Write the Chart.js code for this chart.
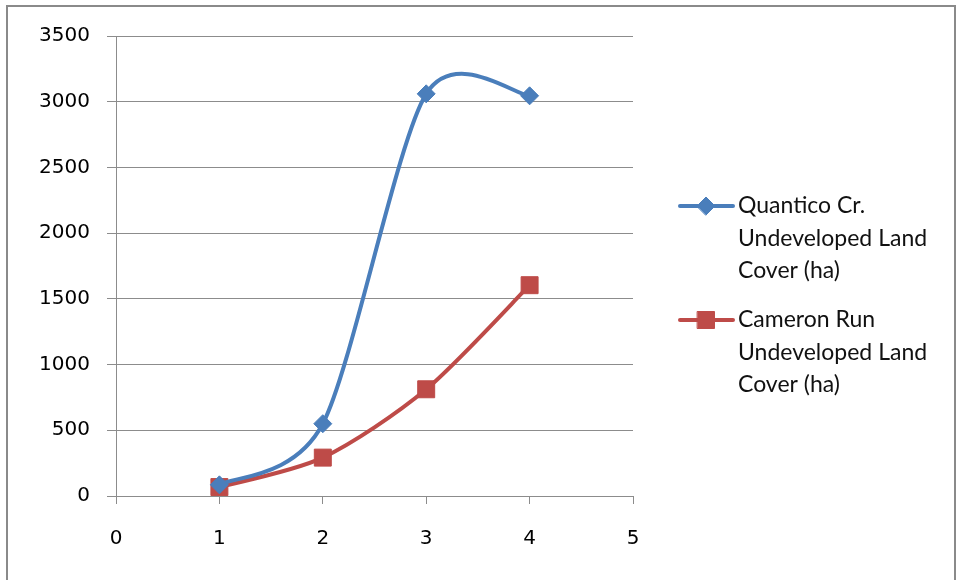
<!DOCTYPE html>
<html>
<head>
<meta charset="utf-8">
<script src="https://cdn.jsdelivr.net/npm/chart.js@4/dist/chart.umd.min.js"></script>
<style>
  html, body { margin: 0; padding: 0; background: #fff; }
  #wrap { position: relative; width: 960px; height: 580px; overflow: hidden; }
  #c { position: absolute; left: 0; top: 0; }
  #frame { position: absolute; left: 6px; top: 5px; width: 946px; height: 600px;
           border: 2px solid #8a8a8a; pointer-events: none; }
</style>
</head>
<body>
<div id="wrap">
  <canvas id="c" width="960" height="580"></canvas>
  <div id="frame"></div>
</div>
<script>
// Time step (x) and undeveloped land cover in hectares (y)
const steps = [1, 2, 3, 4];
const quanticoCr = [85, 550, 3060, 3045];
const cameronRun = [68, 292, 812, 1604];
const quanticoLabel = ['Quantico Cr.', 'Undeveloped Land', 'Cover (ha)'];
const cameronLabel = ['Cameron Run', 'Undeveloped Land', 'Cover (ha)'];

const BLUE = '#4a7ebb';
const RED = '#be4b48';
const GRID = '#8c8c8c';
const TICK_FONT = { family: "'DejaVu Sans', sans-serif", size: 20 };

const toPoints = (ys) => steps.map((x, i) => ({ x: x, y: ys[i] }));

// Uniform Catmull-Rom smoothing: control arms are a fixed fraction of the
// chord between each point's neighbours (the point itself at the ends).
const SMOOTH = 0.14;
const uniformSpline = {
  id: 'uniformSpline',
  beforeDatasetDraw(chart, args) {
    const meta = args.meta;
    const line = meta.dataset;
    const pts = meta.data;
    line.updateControlPoints(chart.chartArea, meta.iScale.axis);
    for (let i = 0; i < pts.length; i++) {
      const p = pts[i];
      const prev = pts[i - 1] || p;
      const next = pts[i + 1] || p;
      const dx = (next.x - prev.x) * SMOOTH;
      const dy = (next.y - prev.y) * SMOOTH;
      p.cp1x = p.x - dx; p.cp1y = p.y - dy;
      p.cp2x = p.x + dx; p.cp2y = p.y + dy;
    }
    line._path = undefined;
  }
};

// Legend drawn beside the plot: sample line with its marker, then wrapped text
const sideLegend = {
  id: 'sideLegend',
  afterDraw(chart) {
    const ctx = chart.ctx;
    const blocks = [
      { ds: chart.data.datasets[0], lines: quanticoLabel, y: 206 },
      { ds: chart.data.datasets[1], lines: cameronLabel, y: 320 }
    ];
    ctx.save();
    blocks.forEach(b => {
      ctx.strokeStyle = b.ds.borderColor;
      ctx.lineWidth = 4;
      ctx.lineCap = 'round';
      ctx.beginPath();
      ctx.moveTo(680, b.y);
      ctx.lineTo(733, b.y);
      ctx.stroke();
      ctx.fillStyle = b.ds.borderColor;
      ctx.lineWidth = 1;
      Chart.helpers.drawPoint(ctx, {
        pointStyle: b.ds.pointStyle,
        radius: b.ds.pointStyle === 'rect' ? 12 : 9,
        borderWidth: 1,
        rotation: 0
      }, 706, b.y);
      ctx.fillStyle = '#111';
      ctx.font = '23px Lato';
      ctx.textBaseline = 'middle';
      ctx.textAlign = 'left';
      b.lines.forEach((t, i) => ctx.fillText(t, 738, b.y + i * 32.5));
    });
    ctx.restore();
  }
};

new Chart(document.getElementById('c'), {
  type: 'line',
  data: {
    datasets: [
      {
        label: quanticoLabel.join(' '),
        data: toPoints(quanticoCr),
        borderColor: BLUE,
        backgroundColor: BLUE,
        borderWidth: 4,
        pointStyle: 'rectRot',
        pointRadius: 9,
        pointBorderWidth: 1,
        tension: 0.4
      },
      {
        label: cameronLabel.join(' '),
        data: toPoints(cameronRun),
        borderColor: RED,
        backgroundColor: RED,
        borderWidth: 4,
        pointStyle: 'rect',
        pointRadius: 12,
        pointBorderWidth: 1,
        tension: 0.4
      }
    ]
  },
  options: {
    responsive: false,
    animation: false,
    layout: { padding: { top: 36, right: 327, left: 0, bottom: 0 } },
    plugins: { legend: { display: false }, tooltip: { enabled: false } },
    scales: {
      x: {
        type: 'linear',
        min: 0, max: 5,
        ticks: { stepSize: 1, color: '#000', font: TICK_FONT, padding: 23, callback: v => String(v) },
        grid: { drawOnChartArea: false, drawTicks: true, tickLength: 8, color: GRID },
        border: { color: GRID, width: 1 },
        afterFit(s) { s.height = 84; }
      },
      y: {
        min: 0, max: 3500,
        ticks: { stepSize: 500, color: '#000', font: TICK_FONT, padding: 17, callback: v => String(v) },
        grid: { color: GRID, tickLength: 9, lineWidth: 1 },
        border: { color: GRID, width: 1 },
        afterFit(s) { s.width = 116; }
      }
    }
  },
  plugins: [uniformSpline, sideLegend]
});
</script>
</body>
</html>
